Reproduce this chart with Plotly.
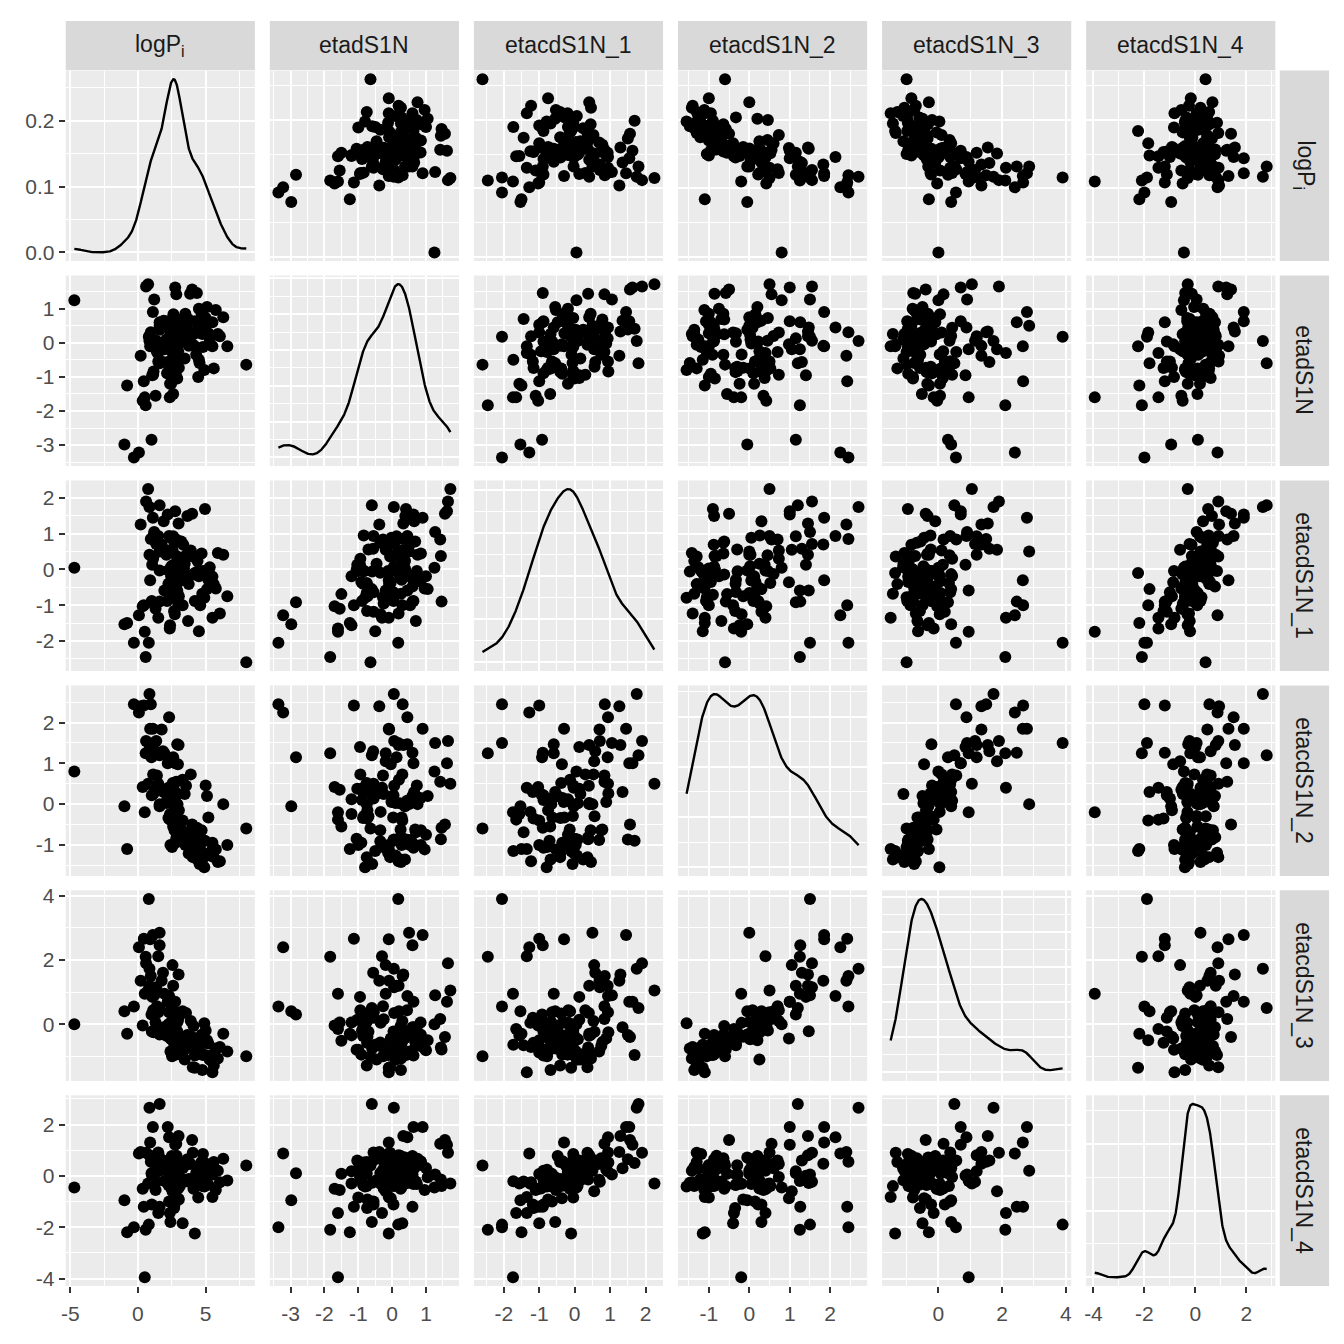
import numpy as np
import plotly.graph_objects as go

# ---------------- data (one value per observation, same order in every list) ----------------
logPi = [-4.7, 8.0, -0.3, 0.07, -1.0, 1.0, 0.5, 0.57, 0.8, -0.8, 0.43, 0.75, 0.6, 4.0, 1.1, 1.6, 0.9, 1.6, 1.5, 1.6, 0.85, 4.2, 3.3, 2.4,
         0.2, 0.35, 0.95, 1.05, 1.15, 0.85, 1.3, 1.4, 1.02, 1.5,
         1.12, 1.6, 1.2, 2.37, 1.75, 2.47, 1.85, 2.57, 1.9, 1.95,
         2.63, 2.77, 1.35, 2.83, 2.97, 2.1, 2.15, 2.2, 2.25, 2.3,
         2.3, 2.35, 2.4, 2.4, 2.45, 2.5, 2.5, 2.55, 2.6, 2.6,
         2.65, 2.7, 2.7, 2.75, 2.8, 2.8, 2.85, 2.9, 2.9, 2.95,
         3.0, 2.25, 2.62, 3.1, 2.72, 3.2, 2.78, 3.3, 3.35, 2.92,
         3.45, 3.5, 3.55, 3.02, 3.65, 3.7, 3.75, 2.52, 3.85, 3.9,
         2.67, 3.4, 2.73, 4.05, 4.1, 4.2, 4.3, 4.35, 4.4, 4.45,
         4.5, 4.55, 4.6, 4.7, 4.75, 4.8, 4.9, 4.95, 4.5, 5.0,
         5.1, 5.2, 5.3, 5.5, 5.6, 5.75, 5.9, 5.5, 6.05, 6.3, 6.6]

etadS1N = [1.25, -0.64, -3.36, -3.22, -2.98, -2.84, -1.6, -1.83, 0.18, -1.25, -1.13, 1.72, 1.65, 1.56, 0.9, 0.5, -0.1, 0.6, -0.3, -0.6, 0.05, -0.1, 0.3, -0.6,
           -0.38, -1.7, 0.31, -0.95, -0.84, 0.19, -1.55, -0.27, 0.04, -0.55,
           -0.94, 0.38, 1.27, -1.2, -0.09, 0.23, -0.56, -0.75, 0.65, -0.19,
           -1.03, 0.03, 0.06, 1.42, -0.25, 0.10, -0.89, 0.63, -0.85, -0.55,
           0.45, -1.6, -0.02, 0.28, -1.2, -0.70, 0.60, -0.19, -1.5, 0.13,
           0.44, -0.35, -0.55, 1.62, 0.03, -0.83, 0.24, 0.45, -1.05, -0.04,
           0.33, -0.86, 0.84, 0.05, -0.34, 0.68, -0.91, 0.20, 0.51, -0.75,
           -0.46, 0.85, 0.06, -0.73, 0.39, 0.70, -0.09, -0.27, 1.44, 0.30,
           -0.74, 0.38, 0.63, -0.06, 0.25, 0.63, -0.35, 1.46, 0.38, -1.0,
           1.00, -0.59, 0.53, 0.85, 0.26, -0.12, -0.8, 0.41, -0.50, 0.73,
           1.05, 0.28, 0.10, -0.1, -0.75, 0.96, 0.26, 0.60, 0.19, 0.75, -0.1]

etacdS1N_1 = [0.05, -2.6, -2.05, -1.28, -1.53, -0.92, -1.74, -2.45, -2.05, -1.5, -1.0, 2.25, 1.9, 1.56, 1.45, 0.5, -0.3, -0.9, -1.35, 1.8, 1.75, -0.1, -1.0, -0.55,
              1.26, -1.03, 0.85, 0.13, 0.95, 0.41, -1.1, 0.84, -0.88, 0.94,
              0.3, -0.03, 1.05, -1.56, 0.7, 0.09, 0.58, -0.38, 1.35, -0.59,
              0.13, -0.63, 0.71, 0.84, -0.95, 0.41, -0.88, 1.54, -0.03, -0.64,
              0.94, -1.65, 0.89, 0.03, -0.19, 0.56, -0.48, 0.55, -0.69, 0.93,
              -0.18, 0.75, -1.18, 1.63, -0.71, -0.05, 0.38, -0.59, -0.01, -0.36,
              1.29, -0.4, -0.34, 0.08, -1.25, 0.78, -0.35, -0.13, 0.69, -0.66,
              0.16, -0.26, 0.4, -0.75, 1.5, -1.44, -0.41, -0.78, 0.38, 0.53,
              -1.16, 0.03, -0.31, 0.36, -0.14, -0.88, -0.09, -0.9, 0.24, -0.04,
              -0.19, -0.06, -1.0, 0.45, -0.68, -0.04, -0.79, 1.69, -1.73, -0.04,
              -0.55, -0.29, 0.06, -1.35, -0.41, -0.53, 0.46, -0.2, -1.23, 0.41, -0.75]

etacdS1N_2 = [0.8, -0.6, 2.45, 2.25, -0.05, 1.15, -0.2, 1.25, 1.5, -1.1, 2.42, 0.5, 1.55, -0.5, 1.85, 0.0, 1.85, 1.26, 0.4, 1.2, 2.7, -1.15, -0.4, 0.3,
              2.4, 0.42, 2.45, 1.4, 0.26, 1.45, 0.35, 0.70, 0.22, 0.50,
              0.73, -0.05, 1.5, -0.24, 1.83, 0.02, 1.3, 0.52, 0.3, 1.25,
              0.38, -0.33, 1.55, 0.55, 0.25, 0.03, 0.1, 1.0, 0.4, 0.14,
              2.13, -0.38, 0.05, -1.0, 0.12, -0.30, 0.2, 1.05, -0.55, 1.15,
              0.08, -0.64, 0.3, 1.0, -0.9, -0.29, -0.81, 1.47, -0.85, 0.98,
              1.45, -0.34, 0.15, -0.87, -0.19, -0.62, -0.95, 0.6, -0.88, 0.00,
              0.25, -1.00, 0.45, -0.15, -0.87, -0.69, -1.21, -1.05, -0.86, 0.73,
              -0.35, -0.86, 0.05, -1.30, -0.62, -1.07, -0.91, -0.58, -1.36, -1.0,
              -0.75, -1.47, -1.00, -0.64, -1.36, -1.19, -1.55, -0.90, -1.15, 0.46,
              0.2, -0.33, -1.26, -1.1, -1.30, -1.11, -1.42, -0.95, -1.40, 0.0, -1.0]

etacdS1N_3 = [0.0, -1.0, 0.55, 2.4, 0.4, 0.3, 0.95, 2.1, 3.9, -0.3, 2.66, 1.05, 1.9, -0.4, 2.78, 2.85, 2.65, 2.46, 2.12, 0.5, 1.73, -1.36, -0.5, 0.4,
              1.35, -0.04, 1.5, 0.85, -0.25, 1.2, 0.05, 0.56, -0.23, 0.37,
              0.43, -0.32, 0.9, -0.35, 1.35, -0.47, 1.6, 0.33, -0.1, 0.95,
              0.14, -0.66, 1.15, 0.16, 0.15, -0.36, -0.2, 0.7, 0.0, 0.37,
              0.88, -0.15, -0.45, -0.85, 0.05, -0.24, -0.1, 1.84, -0.52, 1.2,
              0.43, -0.68, 0.2, 0.7, -0.75, -0.28, -0.85, -0.22, -0.8, -0.45,
              1.55, -0.37, 0.05, -0.94, 0.04, -0.56, -0.95, 0.4, -0.85, 0.07,
              -1.1, -0.68, 0.35, -0.39, -0.34, -0.66, -0.73, -1.0, -0.73, 0.1,
              -0.58, -0.43, -0.35, -1.34, -0.06, -0.98, -0.57, -0.79, -0.93, -0.8,
              -0.81, -0.76, -0.88, -0.33, -1.43, -0.96, 0.03, -0.96, -0.64, -0.2,
              -0.5, -0.6, -1.11, -1.5, -1.29, -0.76, -1.07, -0.95, -0.71, -0.3, -0.85]

etacdS1N_4 = [-0.45, 0.4, -2.0, 0.87, -0.95, 0.1, -3.95, -2.1, -1.9, -2.2, -1.2, -0.3, 0.9, 1.4, 1.9, 0.2, 1.3, -1.2, -1.45, 2.8, 2.65, -2.25, -1.85, -1.8,
              0.93, -0.5, 0.55, 0.0, 0.52, 0.80, -0.55, 0.6, -1.12, 0.91,
              -0.04, 0.72, 0.05, -0.3, 0.47, 0.05, 0.6, -0.4, 0.3, -0.2,
              0.6, 0.04, -0.23, 1.25, -0.49, 0.28, 0.2, 1.9, 0.2, -1.0,
              1.5, -1.45, 0.25, -0.43, 0.18, 0.41, 0.77, -0.6, 0.08, 0.18,
              0.46, 0.69, -1.12, 1.21, -0.39, 0.05, 0.78, -0.28, 0.21, -0.87,
              1.55, -0.36, 0.57, -0.4, -0.31, 0.51, -0.15, 0.3, -0.15, 0.09,
              -0.17, 0.42, 0.52, -0.92, 0.65, -0.22, -0.12, 0.24, -0.14, 0.46,
              -1.25, 0.48, -0.32, 0.9, -0.5, -0.14, 0.11, -0.4, 0.35, -0.84,
              0.31, -0.27, 0.07, 0.55, -0.4, 0.85, -0.41, 0.5, -0.21, -0.32,
              -0.05, -0.35, 0.3, -0.82, 0.54, -0.55, 0.2, 0.05, -0.25, 0.67, -0.18]

strip_labels = ["logP<sub>i</sub>", "etadS1N", "etacdS1N_1", "etacdS1N_2", "etacdS1N_3", "etacdS1N_4"]
major_ticks = [[-5, 0, 5], [-3, -2, -1, 0, 1], [-2, -1, 0, 1, 2], [-1, 0, 1, 2], [0, 2, 4], [-4, -2, 0, 2]]
minor_step = [2.5, 0.5, 0.5, 0.5, 1.0, 1.0]
density_ticks_row1 = [0.0, 0.1, 0.2]

data = [logPi, etadS1N, etacdS1N_1, etacdS1N_2, etacdS1N_3, etacdS1N_4]
data = [np.asarray(v, dtype=float) for v in data]

# ---------------- helpers ----------------
def kde(v):
    n = len(v)
    sd = v.std(ddof=1)
    q75, q25 = np.percentile(v, [75, 25])
    bw = 0.9 * min(sd, (q75 - q25) / 1.34) * n ** -0.2
    xs = np.linspace(v.min(), v.max(), 512)
    ys = np.exp(-0.5 * ((xs[:, None] - v[None, :]) / bw) ** 2).sum(1) / (n * bw * np.sqrt(2 * np.pi))
    return xs, ys

def expand(lo, hi):
    d = hi - lo
    return [lo - 0.05 * d, hi + 0.05 * d]

def minors(rng, majors, step):
    vals = []
    v = np.floor(rng[0] / step) * step
    while v <= rng[1] + 1e-9:
        if v >= rng[0] and all(abs(v - m) > 1e-9 for m in majors):
            vals.append(round(v, 6))
        v += step
    return vals

def fmt(v):
    return f"{v:.0f}"  # hyphen-minus like ggplot

W = H = 1344
left0, pw, hgap = 61, 190, 15
top0, ph, vgap = 65, 192, 14.5
GRID_MAJ, GRID_MIN = 2.0, 1.0
FONT = "Liberation Sans, Arial, sans-serif"
TICKFONT = dict(family=FONT, size=21, color="#4D4D4D")

ranges = [expand(v.min(), v.max()) for v in data]
dens = [kde(v) for v in data]

fig = go.Figure()
layout = {}

for r in range(6):
    for c in range(6):
        k = r * 6 + c + 1
        xname = "x" if k == 1 else f"x{k}"
        yname = "y" if k == 1 else f"y{k}"
        if r == c:
            xs, ys = dens[c]
            fig.add_trace(go.Scatter(x=xs, y=ys, mode="lines", line=dict(color="black", width=2.4),
                                     xaxis=xname, yaxis=yname, showlegend=False, hoverinfo="skip"))
        else:
            fig.add_trace(go.Scatter(x=data[c], y=data[r], mode="markers",
                                     marker=dict(color="black", size=12, line=dict(width=0)),
                                     xaxis=xname, yaxis=yname, showlegend=False, hoverinfo="skip"))

        x0 = left0 + c * (pw + hgap)
        x1 = x0 + pw
        y0 = top0 + r * (ph + vgap)
        y1 = y0 + ph

        xr = ranges[c]
        xmaj = [t for t in major_ticks[c] if xr[0] <= t <= xr[1]]
        xa = dict(domain=[x0 / W, x1 / W], anchor=yname, range=xr,
                  tickmode="array", tickvals=xmaj, ticktext=[fmt(t) for t in xmaj],
                  showticklabels=(r == 5), ticks="outside" if r == 5 else "",
                  ticklen=6, tickwidth=1.6, tickcolor="#333333", tickfont=TICKFONT,
                  ticklabelstandoff=3,
                  showgrid=True, gridcolor="white", gridwidth=GRID_MAJ,
                  minor=dict(tickmode="array", tickvals=minors(xr, xmaj, minor_step[c]),
                             showgrid=True, gridcolor="white", gridwidth=GRID_MIN, ticks=""),
                  zeroline=False, showline=False, fixedrange=True)
        if r == c:
            ymax = dens[c][1].max()
            yr = [-0.05 * ymax, 1.05 * ymax]
            cand = [0.05, 0.1, 0.2, 0.25, 0.5, 1.0]
            step = next(s for s in cand if ymax / s <= 5)
            ymaj = [round(i * step, 6) for i in range(0, int(ymax / step) + 2) if i * step <= yr[1]]
            if r == 0:
                ymaj = [t for t in density_ticks_row1 if t <= yr[1]]
            ytext = [f"{t:.1f}" for t in ymaj]
            ymin_vals = minors(yr, ymaj, step / 2)
        else:
            yr = ranges[r]
            ymaj = [t for t in major_ticks[r] if yr[0] <= t <= yr[1]]
            ytext = [fmt(t) for t in ymaj]
            ymin_vals = minors(yr, ymaj, minor_step[r])
        ya = dict(domain=[1 - y1 / H, 1 - y0 / H], anchor=xname, range=yr,
                  tickmode="array", tickvals=ymaj, ticktext=ytext,
                  showticklabels=(c == 0), ticks="outside" if c == 0 else "",
                  ticklen=6, tickwidth=1.6, tickcolor="#333333", tickfont=TICKFONT,
                  showgrid=True, gridcolor="white", gridwidth=GRID_MAJ,
                  minor=dict(tickmode="array", tickvals=ymin_vals,
                             showgrid=True, gridcolor="white", gridwidth=GRID_MIN, ticks=""),
                  zeroline=False, showline=False, fixedrange=True)
        layout["xaxis" if k == 1 else f"xaxis{k}"] = xa
        layout["yaxis" if k == 1 else f"yaxis{k}"] = ya

shapes = []
annotations = []
STRIP_FILL = "#D9D9D9"
STRIPFONT = dict(family=FONT, size=23, color="#1A1A1A")
st_top, st_bot = 15, 64.5
for c in range(6):
    x0 = left0 + c * (pw + hgap)
    x1 = x0 + pw
    shapes.append(dict(type="rect", xref="paper", yref="paper", x0=x0 / W, x1=x1 / W,
                       y0=1 - st_bot / H, y1=1 - st_top / H, fillcolor=STRIP_FILL, line=dict(width=0), layer="below"))
    annotations.append(dict(xref="paper", yref="paper", x=(x0 + x1) / 2 / W, y=1 - (st_top + st_bot) / 2 / H,
                            text=strip_labels[c], showarrow=False, font=STRIPFONT, xanchor="center", yanchor="middle"))
sr_left, sr_right = 1280.5, 1330
for r in range(6):
    y0 = top0 + r * (ph + vgap)
    y1 = y0 + ph
    shapes.append(dict(type="rect", xref="paper", yref="paper", x0=sr_left / W, x1=sr_right / W,
                       y0=1 - y1 / H, y1=1 - y0 / H, fillcolor=STRIP_FILL, line=dict(width=0), layer="below"))
    annotations.append(dict(xref="paper", yref="paper", x=(sr_left + sr_right) / 2 / W, y=1 - (y0 + y1) / 2 / H,
                            text=strip_labels[r], showarrow=False, font=STRIPFONT, textangle=90,
                            xanchor="center", yanchor="middle"))

fig.update_layout(width=W, height=H, margin=dict(l=0, r=0, t=0, b=0, pad=0),
                  paper_bgcolor="white", plot_bgcolor="#EBEBEB",
                  shapes=shapes, annotations=annotations, showlegend=False,
                  font=dict(family=FONT), **layout)

fig.write_html("out.html", config={"displayModeBar": False},
               post_script="document.body.style.margin='0px';document.body.style.overflow='hidden';")
